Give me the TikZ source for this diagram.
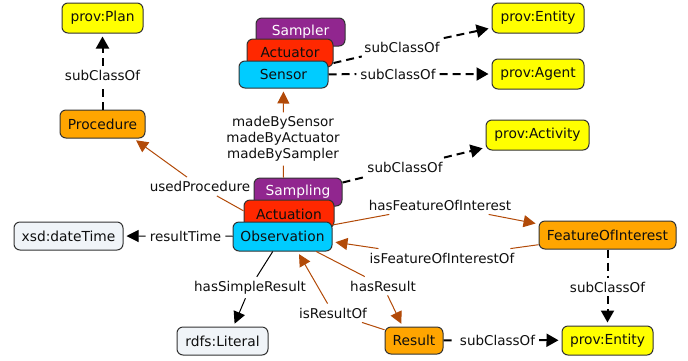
\documentclass[tikz,border=0pt]{standalone}
\usepackage{fontspec}
\setmainfont{DejaVu Sans}
\usetikzlibrary{arrows.meta}
\definecolor{cYellow}{RGB}{255,255,0}
\definecolor{cOrange}{RGB}{255,165,0}
\definecolor{cCyan}{RGB}{0,204,255}
\definecolor{cRed}{RGB}{255,40,0}
\definecolor{cPurple}{RGB}{145,38,143}
\definecolor{cLit}{RGB}{240,244,248}
\definecolor{cBrown}{RGB}{178,74,8}
\definecolor{cBorder}{RGB}{50,50,50}
\definecolor{cText}{RGB}{15,15,15}
\tikzset{
  box/.style={draw=cBorder, line width=1pt, rounded corners=6pt, inner sep=0pt,
    font=\fontsize{13.8pt}{15pt}\selectfont, text=cText},
  lbl/.style={inner sep=4pt, font=\fontsize{13.5pt}{16pt}\selectfont, text=cText, align=center},
  subcls/.style={draw=black, line width=2pt, dash pattern=on 8pt off 5pt,
    -{Triangle[width=13pt,length=12pt]}, shorten >=3pt},
  objprop/.style={draw=cBrown, line width=1pt,
    -{Triangle[width=12pt,length=12pt]}, shorten >=3pt},
  dataprop/.style={draw=black, line width=1pt,
    -{Triangle[width=12pt,length=12pt]}, shorten >=3pt},
}
\begin{document}
\begin{tikzpicture}[x=1pt,y=-1pt]
\useasboundingbox (0,0) rectangle (688,360);
% nodes
\node[box, fill=cYellow, minimum width=81pt, minimum height=30pt] (plan) at (102.5,18) {prov:Plan};
\node[box, fill=cOrange, minimum width=85pt, minimum height=28pt] (proc) at (102.5,124) {Procedure};
\node[box, fill=cPurple, text=white, minimum width=89pt, minimum height=28pt] (sampler) at (300.5,32) {Sampler};
\node[box, fill=cRed, minimum width=86pt, minimum height=28pt] (actuator) at (290,53) {Actuator};
\node[box, fill=cCyan, minimum width=89pt, minimum height=27pt] (sensor) at (283.5,74.5) {Sensor};
\node[box, fill=cYellow, minimum width=92pt, minimum height=30pt] (entityA) at (538,18) {prov:Entity};
\node[box, fill=cYellow, minimum width=92pt, minimum height=30pt] (agent) at (538,74) {prov:Agent};
\node[box, fill=cYellow, minimum width=103pt, minimum height=30pt] (activity) at (537.5,135) {prov:Activity};
\node[box, fill=cPurple, text=white, minimum width=88pt, minimum height=28pt] (sampling) at (298,192) {Sampling};
\node[box, fill=cRed, minimum width=90pt, minimum height=28pt] (actuation) at (289,214) {Actuation};
\node[box, fill=cCyan, minimum width=99pt, minimum height=29pt] (obs) at (282.5,236.5) {Observation};
\node[box, fill=cLit, minimum width=109pt, minimum height=28pt] (dt) at (68.5,236) {xsd:dateTime};
\node[box, fill=cLit, minimum width=91pt, minimum height=28pt] (lit) at (222.5,341) {rdfs:Literal};
\node[box, fill=cOrange, minimum width=58pt, minimum height=27pt] (result) at (414,340.5) {Result};
\node[box, fill=cOrange, minimum width=137pt, minimum height=28pt] (foi) at (607.5,235) {FeatureOfInterest};
\node[box, fill=cYellow, minimum width=91pt, minimum height=29pt] (entityB) at (607.5,340.5) {prov:Entity};
% labels
\node[lbl] (l1) at (102.5,75) {subClassOf};
\node[lbl] (l2) at (402,47) {subClassOf};
\node[lbl] (l3) at (398,74) {subClassOf};
\node[lbl] (l4) at (405,167) {subClassOf};
\node[lbl] (l5) at (283,139) {madeBySensor\\madeByActuator\\madeBySampler};
\node[lbl] (l6) at (200,186.5) {usedProcedure};
\node[lbl] (l7) at (185.5,236) {resultTime};
\node[lbl] (l8) at (250,287.5) {hasSimpleResult};
\node[lbl] (l9) at (383,286) {hasResult};
\node[lbl] (l10) at (333,313) {isResultOf};
\node[lbl] (l11) at (440,205) {hasFeatureOfInterest};
\node[lbl] (l12) at (442,258) {isFeatureOfInterestOf};
\node[lbl] (l13) at (607.5,287) {subClassOf};
\node[lbl] (l14) at (497.5,340) {subClassOf};
% connectors
\draw[subcls] (proc) -- (l1) -- (plan);
\draw[subcls] (actuator.-13) -- (l2) -- (entityA);
\draw[subcls] (sensor) -- (l3) -- (agent);
\draw[subcls] (sampling.12) -- (l4) -- (activity);
\draw[subcls] (foi) -- (l13) -- (entityB);
\draw[subcls] (result) -- (l14) -- (entityB);
\draw[objprop] (sampling.north -| sensor.south) -- (l5) -- (sensor.south);
\draw[objprop] (actuation.176) -- (l6) -- (proc.-25);
\draw[objprop] (obs.-24) -- (l9) -- (result.129);
\draw[objprop] (result.160) -- (l10) -- (obs.-45);
\draw[objprop] (obs.13) -- (l11) -- (foi.171);
\draw[objprop] (foi.-172) -- (l12) -- (obs.-6);
\draw[dataprop] (obs) -- (l7) -- (dt);
\draw[dataprop] (obs.-123) -- (l8) -- (lit.53);
\end{tikzpicture}
\end{document}
